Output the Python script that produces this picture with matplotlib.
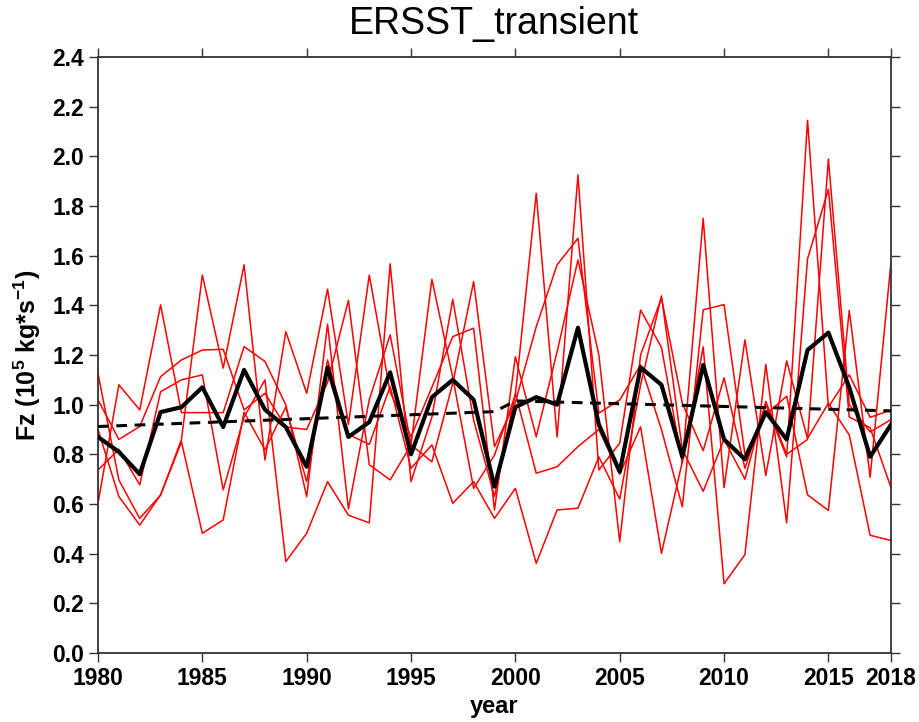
import numpy as np
import matplotlib
matplotlib.use("Agg")
import matplotlib.pyplot as plt

plt.rcParams['font.family'] = ['Liberation Sans', 'DejaVu Sans']
plt.rcParams['mathtext.fontset'] = 'custom'
plt.rcParams['mathtext.rm'] = 'Liberation Sans:bold'
plt.rcParams['mathtext.it'] = 'Liberation Sans:bold'
plt.rcParams['mathtext.bf'] = 'Liberation Sans:bold'

years = np.arange(1980, 2019)

# ensemble members (red)
member_a = [0.603, 1.080, 0.979, 1.402, 0.968, 0.968, 0.968, 1.234, 1.174, 0.999,
            0.630, 1.324, 0.580, 1.020, 1.281, 0.840, 1.505, 1.110, 0.663, 0.797,
            1.040, 1.851, 0.870, 1.925, 0.737, 0.845, 1.381, 1.231, 0.765, 1.750,
            0.666, 1.261, 0.715, 1.176, 0.864, 1.006, 0.878, 0.474, 0.453]
member_b = [1.126, 0.697, 0.542, 0.636, 0.860, 1.522, 1.147, 1.563, 0.777, 1.294,
            1.046, 1.465, 0.920, 1.522, 1.050, 0.871, 1.070, 1.274, 1.308, 0.576,
            1.193, 0.871, 1.213, 1.583, 1.200, 0.448, 1.200, 1.430, 1.005, 0.815,
            1.108, 0.744, 1.000, 0.790, 2.145, 0.990, 1.120, 0.949, 0.978]
member_c = [1.019, 0.860, 0.912, 1.113, 1.180, 1.220, 1.223, 0.979, 1.046, 0.910,
            0.900, 1.090, 1.420, 0.758, 0.697, 0.838, 0.770, 1.086, 1.496, 0.831,
            1.010, 1.314, 1.563, 1.670, 0.966, 1.019, 1.160, 0.900, 0.589, 1.382,
            1.403, 0.800, 0.960, 1.034, 0.637, 0.574, 1.379, 0.708, 1.573]
member_d = [0.737, 0.820, 0.677, 1.052, 1.100, 1.120, 0.657, 0.950, 1.100, 0.368,
            0.482, 0.690, 0.555, 0.524, 1.567, 0.690, 0.950, 1.424, 0.938, 0.630,
            1.046, 0.724, 0.750, 0.831, 0.900, 0.720, 0.911, 0.401, 0.770, 1.233,
            0.279, 0.396, 1.162, 0.524, 1.587, 1.867, 0.950, 0.907, 0.666]
member_e = [0.900, 0.630, 0.515, 0.637, 0.850, 0.482, 0.536, 0.970, 0.818, 0.990,
            0.690, 1.180, 0.880, 0.840, 1.073, 0.744, 0.838, 0.603, 0.690, 0.542,
            0.663, 0.361, 0.576, 0.583, 0.790, 0.620, 1.080, 1.438, 0.820, 0.651,
            0.860, 0.700, 1.013, 0.800, 0.860, 1.989, 1.000, 0.890, 0.940]

# ensemble mean (black)
ens_mean = [0.87, 0.81, 0.72, 0.97, 0.99, 1.07, 0.91, 1.14, 0.98, 0.91,
            0.75, 1.15, 0.87, 0.93, 1.13, 0.80, 1.03, 1.10, 1.02, 0.67,
            0.99, 1.03, 1.00, 1.31, 0.92, 0.73, 1.15, 1.08, 0.79, 1.16,
            0.86, 0.78, 0.97, 0.86, 1.22, 1.29, 1.07, 0.79, 0.92]

# piecewise trend (dashed)
trend_years = [1980, 1999, 2000, 2018]
trend_vals = [0.912, 0.972, 1.015, 0.975]

fig = plt.figure(figsize=(9.2, 7.22), dpi=100)
ax = fig.add_axes([98/920, 1-653/722, (891-98)/920, (653-57)/722])

for m in [member_a, member_b, member_c, member_d, member_e]:
    ax.plot(years, m, color='red', lw=1.1, zorder=2)
ax.plot(trend_years, trend_vals, color='black', lw=2.2, ls=(0, (3.5, 2.5)), zorder=3)
ax.plot(years, ens_mean, color='black', lw=3.0, zorder=4)

ax.set_xlim(1980, 2018)
ax.set_ylim(0, 2.4)
ax.set_xticks([1980, 1985, 1990, 1995, 2000, 2005, 2010, 2015, 2018])
ax.set_yticks(np.arange(0, 2.41, 0.2))
ax.set_yticklabels(["%.1f" % v for v in np.arange(0, 2.41, 0.2)])
ax.tick_params(direction='out', length=6.5, width=1, color='#333333',
               top=True, right=True, labelsize=16.5, pad=3.5)
for lab in ax.get_xticklabels() + ax.get_yticklabels():
    lab.set_fontweight('bold')
for sp in ax.spines.values():
    sp.set_linewidth(1.3)
    sp.set_color('#333333')

fig.text(494/920, 1-24/722, "ERSST_transient", fontsize=27, ha='center', va='center')
fig.text(494/920, 1-706/722, "year", fontsize=17, fontweight='bold', ha='center', va='center')
fig.text(27/920, 1-355/722, r"Fz (10$^{5}$ kg*s$^{-1}$)", fontsize=18, fontweight='bold',
         rotation=90, ha='center', va='center')

fig.savefig("out.png", dpi=100)
